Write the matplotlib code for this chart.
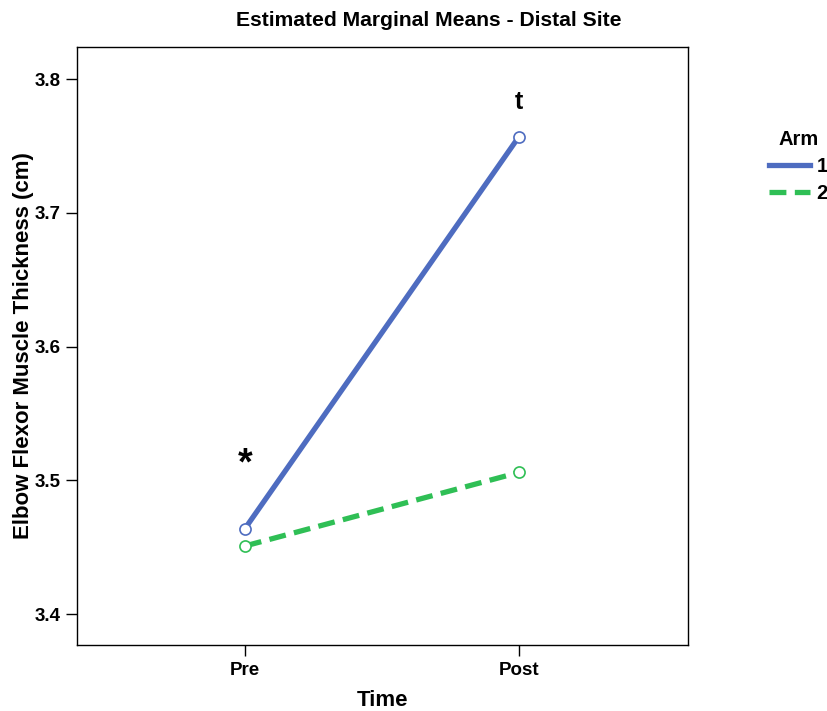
import matplotlib
matplotlib.use("Agg")
import matplotlib.pyplot as plt
from matplotlib.lines import Line2D

plt.rcParams['font.family'] = ['Liberation Sans', 'DejaVu Sans']
plt.rcParams['font.weight'] = 'bold'

# data
times = ["Pre", "Post"]
arm1 = [3.464, 3.757]
arm2 = [3.451, 3.506]
arms = ["1", "2"]
colors = ["#4e6cc0", "#2fbf55"]
styles = ["-", (0, (3.2, 1.6))]

fig = plt.figure(figsize=(8.28, 7.11), dpi=100)
ax = fig.add_axes((77/828, 1-645/711, (688-77)/828, (645-47)/711))

x = list(range(len(times)))
for vals, c, ls in zip([arm1, arm2], colors, styles):
    ax.plot(x, vals, color=c, lw=3.8, linestyle=ls, solid_capstyle='butt')
    ax.plot(x, vals, 'o', ms=8, mfc='white', mec=c, mew=1.2)

# significance markers
ax.text(0, 3.512, "*", ha='center', va='center', fontsize=27, fontweight='bold')
ax.text(1, 3.783, "t", ha='center', va='center', fontsize=18, fontweight='bold')

ax.set_xlim(-0.613, 1.617)
ax.set_ylim(3.377, 3.824)
ax.set_xticks(x)
ax.set_xticklabels(times)
ax.set_yticks([3.4, 3.5, 3.6, 3.7, 3.8])
ax.set_yticklabels(["3.4", "3.5", "3.6", "3.7", "3.8"])
ax.tick_params(labelsize=13.5, length=8, width=1, pad=4)
for lab in ax.get_xticklabels() + ax.get_yticklabels():
    lab.set_fontweight('bold')
for s in ax.spines.values():
    s.set_linewidth(1)

ax.set_xlabel("Time", fontsize=16, fontweight='bold', labelpad=8.5)
ax.set_ylabel("Elbow Flexor Muscle Thickness (cm)", fontsize=16, fontweight='bold', labelpad=0)
fig.text(429/828, 1-20/711, "Estimated Marginal Means - Distal Site", ha='center', va='center',
         fontsize=15.2, fontweight='bold')

handles = [Line2D([0], [0], color=c, lw=3.8, linestyle=ls) for c, ls in zip(colors, styles)]
leg = fig.legend(handles, arms, title="Arm", loc='upper left', bbox_to_anchor=(769/828, 1-130/711),
                 frameon=False, fontsize=14.5, title_fontsize=14.5, handlelength=2.05,
                 handletextpad=0.3, labelspacing=0.4, borderpad=0, borderaxespad=0)
leg.get_title().set_fontweight('bold')
for t in leg.get_texts():
    t.set_fontweight('bold')

plt.savefig("out.png", dpi=100)
